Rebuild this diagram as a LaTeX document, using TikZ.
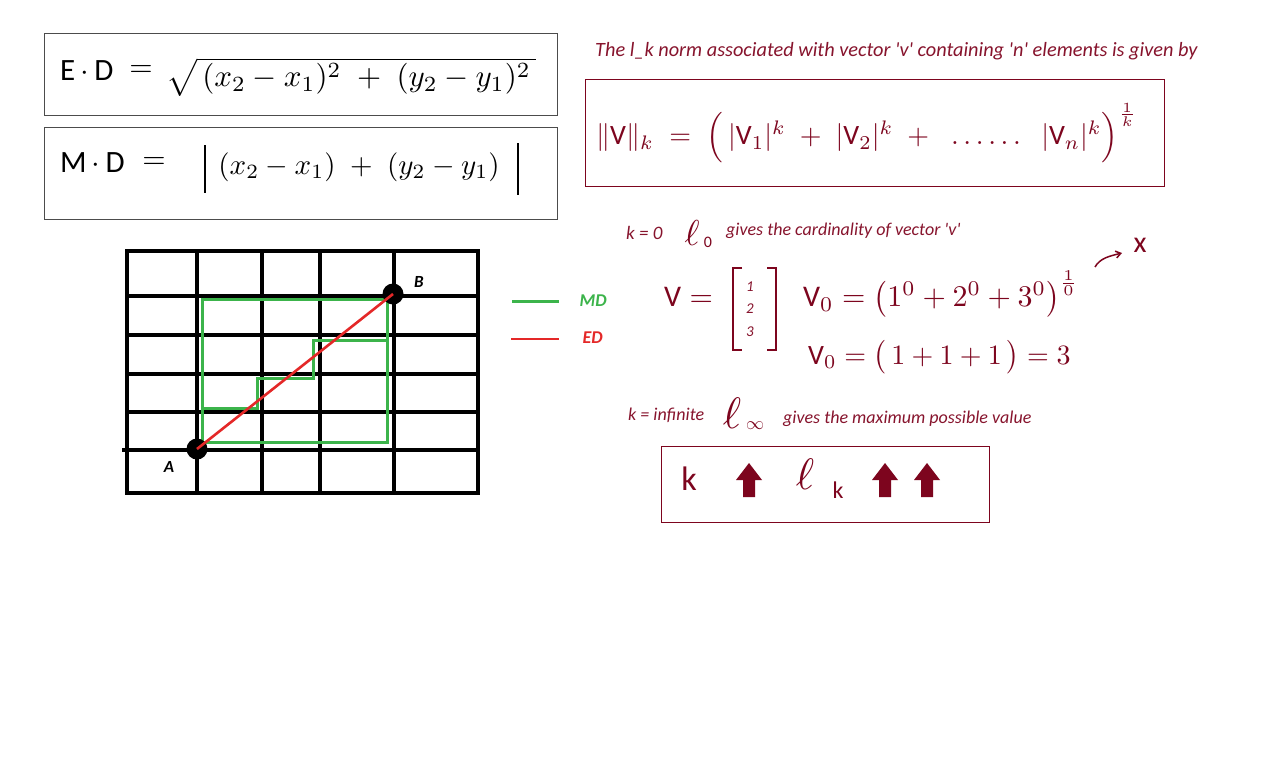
\documentclass[tikz,border=0pt]{standalone}
\usepackage{amsmath}
\usepackage{fontspec}
\setmainfont{Carlito}
\newfontfamily\plainfont{Carlito}[Ligatures=TeXOff]
\usetikzlibrary{arrows.meta}
\definecolor{hw}{RGB}{125,5,30}
\definecolor{txt}{RGB}{135,20,45}
\definecolor{mdgreen}{RGB}{60,180,75}
\definecolor{edred}{RGB}{228,40,40}
\newcommand{\hsz}[2]{\scalebox{\fpeval{#1/10}}{\fontsize{10}{10}\selectfont #2}}
\tikzset{
  framebox/.style={draw=#1, line width=1.1pt, anchor=north west, inner sep=0pt, fill=none},
  gridline/.style={line width=3.2pt, black, line cap=rect},
  mdline/.style={mdgreen, line width=3pt},
  edline/.style={edred, line width=2.6pt},
  dot/.style={circle, fill=black, minimum size=21pt, inner sep=0pt},
  ptlabel/.style={font=\bfseries\itshape\fontsize{17}{20}\selectfont},
  legendlabel/.style={font=\bfseries\itshape\fontsize{18}{21}\selectfont, anchor=west},
  blackmath/.style={black, inner sep=0pt},
  hwmath/.style={hw, inner sep=0pt},
  note/.style={txt, inner sep=0pt, anchor=west, font=\plainfont\itshape\fontsize{#1}{#1}\selectfont},
  fatup/.pic={\fill[hw] (-6,17) -- (-6,0) -- (-13,0) -- (0,-17) -- (13,0) -- (6,0) -- (6,17) -- cycle;}
}
\begin{document}
\begin{tikzpicture}[x=1pt,y=-1pt]
\useasboundingbox (0,0) rectangle (1280,772);
\fill[white] (0,0) rectangle (1280,772);

% ---- formula boxes (left)
\node[framebox=black!70, minimum width=513pt, minimum height=82pt] (edbox) at (44,33) {};
\node[framebox=black!70, minimum width=513pt, minimum height=92pt] (mdbox) at (44,127) {};

\node[blackmath, anchor=west] (edlab) at (60,71) {\hsz{31}{E\,$\cdot$\,D}};
\node[blackmath] (edeq) at (141,71) {\hsz{30}{$=$}};
\node[blackmath, anchor=west] (edexpr) at (166,77) {\hsz{31}{$\sqrt{\,(x_2 - x_1)^2 \;+\; (y_2 - y_1)^2\,}$}};

\node[blackmath, anchor=west] (mdlab) at (60,163) {\hsz{31}{M\,$\cdot$\,D}};
\node[blackmath] (mdeq) at (154,163) {\hsz{30}{$=$}};
\coordinate (abs1t) at (205,145); \coordinate (abs1b) at (205,193);
\coordinate (abs2t) at (518,143); \coordinate (abs2b) at (518,195);
\draw[black, line width=1.6pt] (abs1t) -- (abs1b);
\draw[black, line width=1.6pt] (abs2t) -- (abs2b);
\node[blackmath] (mdexpr) at (359,167) {\hsz{29}{$(x_2 - x_1) \;+\; (y_2 - y_1)$}};

% ---- grid
\foreach \x in {127,197,262,320,394,478} \draw[gridline] (\x,251) -- (\x,493);
\foreach \y in {251,296,335,374,412,493} \draw[gridline] (127,\y) -- (478,\y);
\draw[gridline] (124,450) -- (478,450);

% ---- Manhattan paths
\draw[mdline] (202,299) rectangle (387,442);
\draw[mdline] (202,408) -| (257,378) -| (313,340) -- (387,340);

% ---- points and Euclidean line
\node[dot] (A) at (197,449) {};
\node[dot] (B) at (393,294) {};
\draw[edline] (A.center) -- (B.center);
\node[ptlabel] (la) at (169,467) {A};
\node[ptlabel] (lb) at (419,282) {B};

% ---- legend
\coordinate (mds) at (512,301); \coordinate (mde) at (559,301);
\coordinate (eds) at (511,339); \coordinate (ede) at (559,339);
\draw[mdline] (mds) -- (mde);
\draw[edline] (eds) -- (ede);
\node[legendlabel, mdgreen] (mdtxt) at (576,301) {MD};
\node[legendlabel, edred] (edtxt) at (579,338) {ED};

% ---- norm definition
\node[note=20.3] (title) at (595,51) {The l\_k norm associated with vector 'v' containing 'n' elements is given by};
\node[framebox=hw, minimum width=579pt, minimum height=107pt] (normbox) at (585,79) {};
\node[hwmath, anchor=west] (normexpr) at (596,133) {\hsz{28}{$\|\mathrm{V}\|_{k} \;=\; \Bigl(\,|\mathrm{V}_1|^{k} \;+\; |\mathrm{V}_2|^{k} \;+\;\; \ldots\ldots\;\; |\mathrm{V}_n|^{k}\Bigr)^{\frac{1}{k}}$}};

% ---- k = 0
\node[note=19] (k0) at (626,233) {k = 0};
\node[hwmath] (l0) at (692,233) {\hsz{36}{$\ell$}};
\node[hwmath] (l0s) at (708,242) {\hsz{16}{0}};
\node[note=18] (card) at (726,231) {gives the cardinality of vector 'v'};

\node[hwmath, anchor=west] (veclab) at (664,297) {\hsz{30}{$\mathrm{V} =$}};
\draw[hw, line width=1.8pt] (742,268) -| (733,350) -- (742,350);
\draw[hw, line width=1.8pt] (767,268) -| (776,350) -- (767,350);
\node[note=15, anchor=center] (e1) at (750,287) {1};
\node[note=15, anchor=center] (e2) at (750,309) {2};
\node[note=15, anchor=center] (e3) at (750,332) {3};

\node[hwmath, anchor=west] (v0a) at (803,294) {\hsz{30}{$\mathrm{V}_0 = \bigl(1^0 + 2^0 + 3^0\bigr)^{\frac{1}{0}}$}};
\coordinate (arrs) at (1095,267);
\coordinate (arre) at (1122,253);
\draw[hw, line width=1.5pt, -{Straight Barb[length=5pt,width=7pt]}] (arrs) .. controls (1100,258) and (1110,256) .. (arre);
\node[hwmath] (cross) at (1140,245) {\hsz{30}{x}};

\node[hwmath, anchor=west] (v0b) at (808,357) {\hsz{28}{$\mathrm{V}_0 = \bigl(\,1 + 1 + 1\,\bigr) = 3$}};

% ---- k = infinite
\node[note=18] (kinf) at (628,415) {k = infinite};
\node[hwmath] (linf) at (732,413) {\hsz{44}{$\ell$}};
\node[hwmath] (linfs) at (755,426) {\hsz{18}{$\infty$}};
\node[note=18] (maxv) at (783,419) {gives the maximum possible value};

\node[framebox=hw, minimum width=328pt, minimum height=76pt] (bottombox) at (661,446) {};
\node[hwmath] (kk) at (689,479) {\hsz{34}{k}};
\pic at (749,480) {fatup};
\node[hwmath] (lk) at (805,474) {\hsz{44}{$\ell$}};
\node[hwmath] (lks) at (838,490) {\hsz{24}{k}};
\pic at (885,480) {fatup};
\pic at (927,480) {fatup};
\end{tikzpicture}
\end{document}
